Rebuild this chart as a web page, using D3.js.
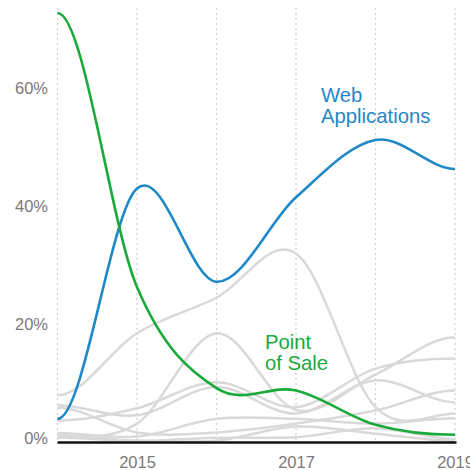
<!DOCTYPE html>
<html><head><meta charset="utf-8">
<script src="https://cdn.jsdelivr.net/npm/d3@7"></script>
<style>body{margin:0;background:#fff}</style>
</head><body><svg id="c" width="470" height="470"></svg>
<script>
const years = [2014, 2015, 2016, 2017, 2018, 2019];
const webApplications = [4, 43, 27.2, 41.5, 51.2, 46.3];
const pointOfSale = [72.7, 26.3, 9.2, 8.8, 3, 1.3];
const other1 = [8, 18.5, 24.5, 32, 6, 4.9];
const other2 = [1.2, 3.2, 18.5, 5.5, 11.5, 17.8];
const other3 = [3.7, 5.8, 10.2, 6, 12.5, 14.2];
const other4 = [6.3, 4.6, 9.4, 4.9, 10.5, 6.8];
const other5 = [5.9, 1.7, 1.7, 3.2, 5.4, 8.8];
const other6 = [1.6, 1, 4, 4, 3.2, 4.1];
const other7 = [0.8, 0.3, 0.8, 0.9, 2.4, 0.6];
const other8 = [1.2, 0.3, 0.3, 2.7, 1.5, 0.3];
const yTicks = [0, 20, 40, 60];
const xTickYears = [2015, 2017, 2019];
const labelWeb = ["Web", "Applications"];
const labelPos = ["Point", "of Sale"];

const svg = d3.select("#c");
const x = d3.scaleLinear().domain([2014, 2019]).range([57.5, 455]);
const y = d3.scaleLinear().domain([0, 60]).range([442.5, 88]);
const font = "'Liberation Sans', Arial, sans-serif";

// cardinal spline with horizontal tangents at both ends
function FlatEndCardinal(context) { this._context = context; }
FlatEndCardinal.prototype = {
  areaStart() {}, areaEnd() {},
  lineStart() { this._pts = []; },
  point(px, py) { this._pts.push([+px, +py]); },
  lineEnd() {
    const p = this._pts, n = p.length, c = this._context;
    if (!n) return;
    c.moveTo(p[0][0], p[0][1]);
    const m = p.map((d, i) => (i === 0 || i === n - 1) ? 0
      : (p[i + 1][1] - p[i - 1][1]) / (p[i + 1][0] - p[i - 1][0]));
    for (let i = 0; i < n - 1; i++) {
      const h = (p[i + 1][0] - p[i][0]) / 3;
      c.bezierCurveTo(p[i][0] + h, p[i][1] + m[i] * h,
        p[i + 1][0] - h, p[i + 1][1] - m[i + 1] * h, p[i + 1][0], p[i + 1][1]);
    }
  }
};
const curveFlatEnds = ctx => new FlatEndCardinal(ctx);

// vertical dotted grid
svg.append("g").selectAll("line").data(years).join("line")
  .attr("x1", d => x(d)).attr("x2", d => x(d))
  .attr("y1", 8).attr("y2", y(0))
  .attr("stroke", "#cfcfcf").attr("stroke-width", 1.2)
  .attr("stroke-dasharray", "2,3");

// y axis labels
const ya = svg.append("g").attr("transform", "translate(48,0)")
  .call(d3.axisLeft(y).tickValues(yTicks).tickSize(0).tickPadding(0).tickFormat(d => d + "%"));
ya.select(".domain").remove();
ya.selectAll("text").attr("font-family", font).attr("font-size", 16.5).attr("fill", "#7a7a7a")
  .attr("dy", d => d === 0 ? "0.05em" : "0.32em");

// x axis labels
const xa = svg.append("g").attr("transform", `translate(0,${y(0)})`)
  .call(d3.axisBottom(x).tickValues(xTickYears).tickSize(0).tickPadding(14).tickFormat(d3.format("d")));
xa.select(".domain").remove();
xa.selectAll("text").attr("font-family", font).attr("font-size", 16.5).attr("fill", "#7a7a7a");

const line = d3.line().x((d, i) => x(years[i])).y(d => y(d)).curve(curveFlatEnds);

const grays = [other1, other2, other3, other4, other5, other6, other7, other8];
svg.append("g").selectAll("path").data(grays).join("path")
  .attr("d", line).attr("fill", "none").attr("stroke", "#d9d9d9").attr("stroke-width", 2.5);

// baseline
svg.append("line").attr("x1", x(2014)).attr("x2", x(2019) + 1.5)
  .attr("y1", y(0)).attr("y2", y(0)).attr("stroke", "#111").attr("stroke-width", 2.5);

svg.append("path").datum(webApplications).attr("d", line).attr("fill", "none")
  .attr("stroke", "#1f88c8").attr("stroke-width", 2.6);
svg.append("path").datum(pointOfSale).attr("d", line).attr("fill", "none")
  .attr("stroke", "#1aaa3a").attr("stroke-width", 2.6);

function multi(lines, px, py, color) {
  const t = svg.append("text").attr("x", px).attr("y", py)
    .attr("font-family", font).attr("font-size", 20.3).attr("fill", color);
  t.selectAll("tspan").data(lines).join("tspan")
    .attr("x", px).attr("dy", (d, i) => i === 0 ? 0 : 21).text(d => d);
}
multi(labelWeb, 321, 101.5, "#1f88c8");
multi(labelPos, 265, 348.5, "#1aaa3a");
</script>
</body></html>
